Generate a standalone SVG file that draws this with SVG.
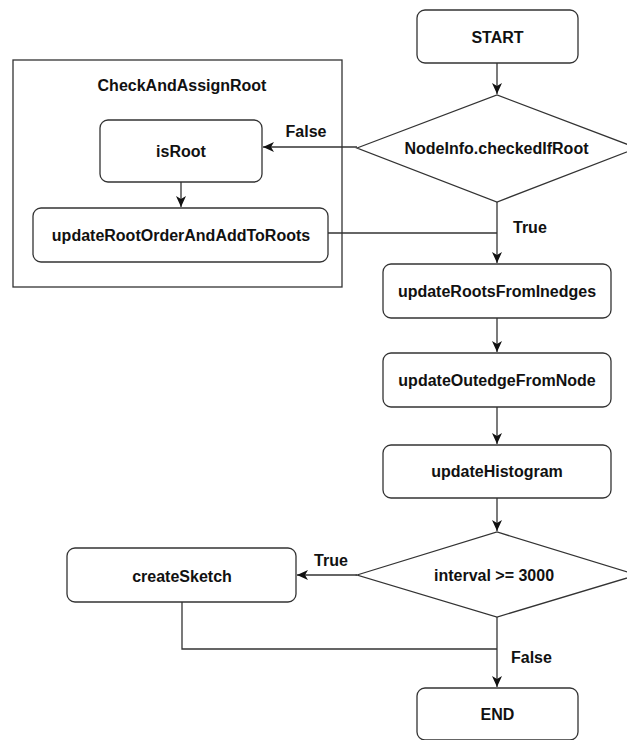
<svg xmlns="http://www.w3.org/2000/svg" width="627" height="740" viewBox="0 0 627 740">
  <style>
    .box { fill: #ffffff; stroke: #333333; stroke-width: 1.3; }
    .frame { fill: none; stroke: #333333; stroke-width: 1.3; }
    .lbl { font-family: "Liberation Sans", Arial, sans-serif; font-size: 16px; font-weight: bold; fill: #111111; }
    .mid { text-anchor: middle; dominant-baseline: central; }
    .edge { fill: none; stroke: #333333; stroke-width: 1.3; }
  </style>
  <defs>
    <marker id="arrow" markerWidth="13" markerHeight="13" refX="11" refY="6.5" orient="auto" markerUnits="userSpaceOnUse">
      <path d="M0,1.5 L11,6.5 L0,11.5 L3,6.5 Z" fill="#111111"/>
    </marker>
  </defs>
  <rect width="627" height="740" fill="#ffffff"/>

  <!-- sub-process frame -->
  <g id="checkAndAssignRoot">
    <rect class="frame" x="13" y="60" width="329" height="227"/>
    <text class="lbl mid" x="182" y="85">CheckAndAssignRoot</text>
  </g>

  <!-- connectors -->
  <g id="connectors">
    <path class="edge" d="M497,63 L497,94" marker-end="url(#arrow)"/>
    <path class="edge" d="M357,147 L263,147" marker-end="url(#arrow)"/>
    <path class="edge" d="M181,182 L181,207" marker-end="url(#arrow)"/>
    <path class="edge" d="M328,233 L497,233"/>
    <path class="edge" d="M497,202 L497,263" marker-end="url(#arrow)"/>
    <path class="edge" d="M497,318 L497,352" marker-end="url(#arrow)"/>
    <path class="edge" d="M497,407 L497,444" marker-end="url(#arrow)"/>
    <path class="edge" d="M497,498 L497,531" marker-end="url(#arrow)"/>
    <path class="edge" d="M357,575 L297,575" marker-end="url(#arrow)"/>
    <path class="edge" d="M182,602 L182,649 L497,649"/>
    <path class="edge" d="M497,617 L497,687" marker-end="url(#arrow)"/>
    <text class="lbl mid" x="306" y="131">False</text>
    <text class="lbl" x="513" y="227" dominant-baseline="central">True</text>
    <text class="lbl mid" x="331" y="560">True</text>
    <text class="lbl" x="511" y="657" dominant-baseline="central">False</text>
  </g>

  <g id="start">
    <rect class="box" x="417" y="10" width="161" height="53" rx="8"/>
    <text class="lbl mid" x="497.5" y="37">START</text>
  </g>

  <g id="checkedIfRoot">
    <polygon class="box" points="357,148 497,95 637,148 497,202"/>
    <text class="lbl mid" x="496.5" y="148">NodeInfo.checkedIfRoot</text>
  </g>

  <g id="isRoot">
    <rect class="box" x="100" y="120" width="162" height="62" rx="8"/>
    <text class="lbl mid" x="181" y="151">isRoot</text>
  </g>

  <g id="updateRootOrderAndAddToRoots">
    <rect class="box" x="33" y="208" width="295" height="54" rx="8"/>
    <text class="lbl mid" x="181" y="235">updateRootOrderAndAddToRoots</text>
  </g>

  <g id="updateRootsFromInedges">
    <rect class="box" x="383" y="264" width="228" height="54" rx="8"/>
    <text class="lbl mid" x="497" y="291">updateRootsFromInedges</text>
  </g>

  <g id="updateOutedgeFromNode">
    <rect class="box" x="383" y="353" width="228" height="54" rx="8"/>
    <text class="lbl mid" x="497" y="380">updateOutedgeFromNode</text>
  </g>

  <g id="updateHistogram">
    <rect class="box" x="383" y="445" width="228" height="53" rx="8"/>
    <text class="lbl mid" x="497" y="471.5">updateHistogram</text>
  </g>

  <g id="intervalCheck">
    <polygon class="box" points="357,575 497,532 637,575 497,617"/>
    <text class="lbl mid" x="494" y="575">interval &gt;= 3000</text>
  </g>

  <g id="createSketch">
    <rect class="box" x="67" y="548" width="229" height="54" rx="8"/>
    <text class="lbl mid" x="182" y="576">createSketch</text>
  </g>

  <g id="end">
    <rect class="box" x="417" y="688" width="161" height="52" rx="8"/>
    <text class="lbl mid" x="497.5" y="714">END</text>
  </g>
</svg>
